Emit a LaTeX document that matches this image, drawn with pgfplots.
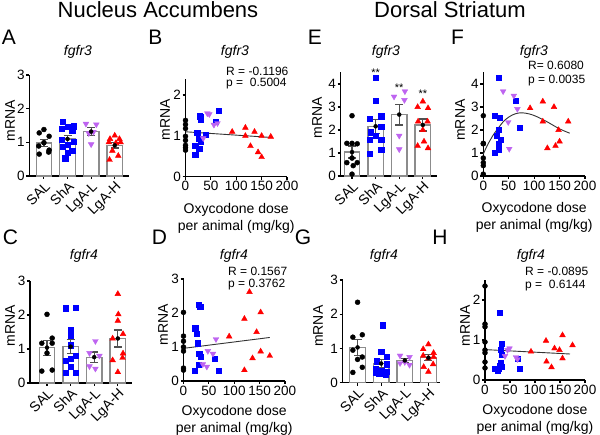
\documentclass[border=0pt]{standalone}
\usepackage{fontspec}
\setmainfont{Liberation Sans}
\usepackage{pgfplots}
\pgfplotsset{compat=1.18}
\definecolor{vio}{RGB}{190,100,240}
\definecolor{barc}{RGB}{140,140,140}
\definecolor{errc}{RGB}{80,80,80}
\newcommand{\tl}{\fontsize{13.5}{15}\selectfont}
\newcommand{\lb}{\fontsize{14}{17}\selectfont}
\newcommand{\rp}{\fontsize{12}{14}\selectfont}
\newcommand{\gt}{\fontsize{14}{16}\selectfont\itshape}
\newcommand{\hd}{\fontsize{22}{26}\selectfont}
\newcommand{\lt}{\fontsize{21}{24}\selectfont}
\pgfplotsset{
 gp/.style={scale only axis, axis lines*=left, axis line style={line width=1.1pt,-}, tick style={line width=1.1pt, black}, major tick length=3pt, tick align=outside, clip=false, ymin=0, /pgf/number format/assume math mode=true, ticklabel style={font=\tl}, yticklabel style={inner sep=1.5pt}, label style={font=\lb}, ylabel={mRNA}},
 barax/.style={gp, xmax=3.6, xtick={0,1,2,3}, xticklabels={SAL,ShA,LgA-L,LgA-H}, xticklabel style={rotate=45, anchor=north east, font=\lb, inner sep=1pt}},
 scax/.style={gp, xmin=0, xmax=200, xtick={0,50,100,150,200}, xlabel={Oxycodone dose\\per animal (mg/kg)}, xlabel style={at={(axis description cs:0.5,0)}, anchor=north, align=center, inner sep=0pt, yshift=-26pt}, xticklabel style={inner sep=1.5pt}},
 gpbar/.style={ybar, bar width=15.5pt, fill=white, draw=barc, line width=1.3pt},
 gperr/.style={only marks, mark=none, error bars/.cd, y dir=both, y explicit, error bar style={errc, line width=1.2pt}, error mark options={errc, rotate=90, mark size=4pt, line width=1.2pt}},
 psal/.style={only marks, mark=*, mark size=2.5pt, black},
 psha/.style={only marks, mark=square*, mark size=2.6pt, blue},
 plgl/.style={only marks, mark=triangle*, mark size=3.3pt, vio, mark options={rotate=180}},
 plgh/.style={only marks, mark=triangle*, mark size=3.3pt, red},
 regl/.style={no markers, line width=0.9pt, black!80},
}
\begin{document}
\begin{tikzpicture}[x=1pt,y=1pt]
\useasboundingbox (0,0) rectangle (600,435);
% ---------- A ----------
\begin{axis}[barax, at={(29.3pt,259pt)}, anchor=south west, width=99.6pt, height=101pt, xmin=-0.62, ymax=3, ytick={0,1,2,3}, ylabel style={at={(axis description cs:-0.194,0.55)}, anchor=center}]
\addplot[gpbar] coordinates {(0,0.98)(1,1.10)(2,1.32)(3,0.91)};
\addplot[psal] coordinates {(0,1.38)(-0.2,1.28)(0.22,1.18)(0,0.99)(-0.22,0.89)(0.22,0.77)(0.2,0.71)(-0.2,0.65)};
\addplot[psha] coordinates {(0.8,1.61)(1.25,1.48)(1.0,1.47)(0.75,1.40)(1.2,1.35)(0.75,1.08)(1.25,1.02)(1.0,0.94)(0.8,0.86)(1.2,0.75)(1.0,0.69)(0.9,0.53)};
\addplot[plgl] coordinates {(1.78,1.55)(2.22,1.53)(2.1,1.31)(1.9,1.27)(2.0,0.94)};
\addplot[plgh] coordinates {(3,1.2)(2.8,1.1)(3.2,1.1)(2.75,1.0)(3.25,1.0)(3.05,0.98)(2.9,0.75)(3.15,0.6)(2.78,0.48)};
\addplot[gperr] coordinates {(0,0.98)+-(0,0.097)(1,1.10)+-(0,0.095)(2,1.32)+-(0,0.11)(3,0.91)+-(0,0.08)};
\end{axis}
% ---------- B ----------
\begin{axis}[scax, at={(185.5pt,258.3pt)}, anchor=south west, width=101.5pt, height=98pt, ymax=2.4, ytick={0,1,2}, ylabel style={at={(axis description cs:-0.202,0.58)}, anchor=center}]
\addplot[regl] coordinates {(0,1.10)(170,0.96)};
\addplot[psal] coordinates {(0,1.38)(0,1.28)(0,1.18)(0,0.99)(0,0.89)(0,0.77)(0,0.71)(0,0.65)};
\addplot[psha] coordinates {(66,1.61)(28,1.48)(30,1.47)(30,1.40)(60,1.35)(23,1.08)(40,1.02)(27,0.94)(30,0.86)(19,0.75)(27,0.69)(19,0.53)};
\addplot[plgl] coordinates {(43,1.55)(47,1.53)(63,1.31)(56,1.27)(35,0.94)};
\addplot[plgh] coordinates {(92,1.1)(118,1.2)(118,1.0)(136,1.1)(128,0.75)(150,1.0)(168,0.98)(143,0.6)(150,0.48)};
\end{axis}
% ---------- E ----------
\begin{axis}[barax, at={(340.7pt,259pt)}, anchor=south west, width=96.3pt, height=103.5pt, xmin=-0.48, ymax=4.5, ytick={0,1,2,3,4}, ylabel style={at={(axis description cs:-0.246,0.56)}, anchor=center}]
\addplot[gpbar] coordinates {(0,1.04)(1,2.16)(2,2.67)(3,2.22)};
\addplot[psal] coordinates {(0,2.62)(-0.22,1.42)(0,1.42)(0.22,1.40)(0,0.78)(-0.22,0.58)(0.22,0.58)(0.05,0.45)(0,0.08)};
\addplot[psha] coordinates {(1,4.26)(1,3.29)(1.24,2.6)(0.76,2.5)(1.24,2.15)(0.8,1.9)(1.24,1.57)(0.76,1.57)(1.24,1.16)(0.76,0.98)(1,1.75)};
\addplot[plgl] coordinates {(2.24,3.68)(1.78,3.45)(2.22,3.3)(2.0,1.75)(2.0,1.16)};
\addplot[plgh] coordinates {(3,3.24)(2.78,3.0)(3.22,2.95)(2.8,2.37)(3.2,2.37)(3,2.0)(3.05,1.5)(2.78,1.31)(3.22,1.21)};
\addplot[gperr] coordinates {(0,1.04)+-(0,0.26)(1,2.16)+-(0,0.3)(2,2.67)+-(0,0.45)(3,2.22)+-(0,0.26)};
\node[font=\fontsize{11}{12}\selectfont] at (axis cs:1,4.49) {**};
\node[font=\fontsize{11}{12}\selectfont] at (axis cs:2,3.83) {**};
\node[font=\fontsize{11}{12}\selectfont] at (axis cs:3,3.57) {**};
\end{axis}
% ---------- F ----------
\begin{axis}[scax, at={(483.3pt,259pt)}, anchor=south west, width=101.7pt, height=103.5pt, ymax=4.5, ytick={0,1,2,3,4}, ylabel style={at={(axis description cs:-0.229,0.54)}, anchor=center}]
\addplot[regl, smooth] coordinates {(0,0.95)(5,1.2)(10,1.42)(20,1.8)(30,2.1)(40,2.38)(50,2.56)(60,2.68)(70,2.74)(80,2.74)(90,2.7)(100,2.63)(110,2.53)(120,2.42)(130,2.3)(140,2.17)(150,2.05)(160,1.95)(170,1.86)};
\addplot[psal] coordinates {(0,2.62)(0,1.42)(0,1.40)(0,0.78)(0,0.58)(0,0.45)(0,0.08)};
\addplot[psha] coordinates {(31,4.26)(64,3.29)(23,2.63)(33,2.52)(71,2.11)(31,2.0)(26,1.75)(34,1.57)(30,1.4)(31,1.16)(23,1.02)};
\addplot[plgl] coordinates {(39,3.68)(60,3.49)(67,2.91)(49,2.34)(51,1.18)};
\addplot[plgh] coordinates {(92,2.95)(117,3.24)(117,2.37)(139,3.0)(126,1.21)(148,2.0)(167,2.37)(142,1.31)(150,1.5)};
\end{axis}
% ---------- C ----------
\begin{axis}[barax, at={(30pt,52pt)}, anchor=south west, width=102pt, height=102pt, xmin=-0.72, ymax=3, ytick={0,1,2,3}, ylabel style={at={(axis description cs:-0.196,0.56)}, anchor=center}]
\addplot[gpbar] coordinates {(0,1.04)(1,1.07)(2,0.76)(3,1.31)};
\addplot[psal] coordinates {(0,2.02)(0.22,1.32)(-0.22,1.17)(0.22,1.17)(0,0.88)(-0.22,0.35)(0.22,0.38)};
\addplot[psha] coordinates {(0.8,2.2)(1.22,2.22)(1,1.55)(1,1.39)(1,1.11)(1.22,0.8)(1.0,0.72)(0.8,0.65)(1.0,0.47)(0.8,0.3)(1.22,0.3)};
\addplot[plgl] coordinates {(2.05,1.23)(1.8,0.88)(2.22,0.8)(1.8,0.49)(2.05,0.42)};
\addplot[plgh] coordinates {(3,2.62)(3.02,2.02)(3,1.83)(3.22,1.44)(2.78,1.31)(3.22,0.87)(3.2,0.74)(2.78,0.67)(3,0.32)};
\addplot[gperr] coordinates {(0,1.04)+-(0,0.22)(1,1.07)+-(0,0.21)(2,0.76)+-(0,0.15)(3,1.31)+-(0,0.25)};
\end{axis}
% ---------- D ----------
\begin{axis}[scax, at={(183.5pt,54pt)}, anchor=south west, width=101.5pt, height=102pt, ymax=3, ytick={0,1,2,3}, ylabel style={at={(axis description cs:-0.202,0.55)}, anchor=center}, xlabel style={yshift=2pt}]
\addplot[regl] coordinates {(0,0.96)(170,1.28)};
\addplot[psal] coordinates {(0,2.02)(0,1.32)(0,1.17)(0,1.0)(0,0.88)(0,0.38)(0,0.32)};
\addplot[psha] coordinates {(29.5,2.24)(33,2.19)(23,1.55)(26,1.39)(28,1.11)(31,0.8)(34,0.72)(62,0.65)(30,0.47)(70,0.3)(22,0.3)};
\addplot[plgl] coordinates {(64,1.23)(48,0.88)(58,0.8)(38,0.49)(46,0.42)};
\addplot[plgh] coordinates {(90,1.31)(120,1.83)(130,2.62)(120,0.32)(136,0.67)(144,1.44)(152,2.02)(152,0.87)(170,0.74)};
\end{axis}
% ---------- G ----------
\begin{axis}[barax, at={(342.7pt,52.3pt)}, anchor=south west, width=97.5pt, height=102.7pt, xmin=-0.63, xmax=3.5, ymax=3, ytick={0,1,2,3}, ylabel style={at={(axis description cs:-0.253,0.55)}, anchor=center}]
\addplot[gpbar] coordinates {(0,1.03)(1,0.56)(2,0.65)(3,0.73)};
\addplot[psal] coordinates {(0,2.35)(0.2,1.4)(-0.2,1.33)(-0.2,0.95)(0.2,0.75)(0,0.68)(0.2,0.45)(-0.2,0.3)};
\addplot[psha] coordinates {(1.05,1.68)(1,0.9)(1.22,0.75)(0.8,0.63)(1.22,0.54)(0.78,0.42)(1.0,0.35)(1.22,0.33)(0.78,0.29)(1.1,0.27)(0.9,0.27)(1.2,0.23)};
\addplot[plgl] coordinates {(1.8,0.79)(2.2,0.75)(2,0.6)(1.8,0.57)(2.2,0.52)};
\addplot[plgh] coordinates {(3,1.12)(2.78,0.98)(3.22,0.87)(2.78,0.79)(3.22,0.75)(3,0.71)(3.2,0.54)(2.8,0.46)(3.0,0.32)};
\addplot[gperr] coordinates {(0,1.03)+-(0,0.23)(1,0.56)+-(0,0.12)(2,0.65)+-(0,0.05)(3,0.73)+-(0,0.09)};
\end{axis}
% ---------- H ----------
\begin{axis}[scax, at={(485pt,55pt)}, anchor=south west, width=100pt, height=100pt, ymax=2.5, ytick={0,1,2}, ylabel style={at={(axis description cs:-0.2,0.54)}, anchor=center}, xlabel style={yshift=2pt}]
\addplot[regl] coordinates {(0,0.76)(170,0.65)};
\addplot[psal] coordinates {(0,2.35)(0,1.4)(0,1.33)(0,0.95)(0,0.75)(0,0.68)(0,0.45)(0,0.3)};
\addplot[psha] coordinates {(29,1.68)(33,0.9)(31,0.75)(33,0.63)(65,0.54)(31,0.42)(33,0.33)(27,0.29)(20,0.29)(70,0.29)(25,0.23)(29,0.35)};
\addplot[plgl] coordinates {(49,0.79)(45,0.75)(40,0.6)(62,0.57)(65,0.52)};
\addplot[plgh] coordinates {(92,0.71)(122,0.98)(123,0.46)(133,0.32)(139,0.79)(149,0.75)(155,1.12)(155,0.54)(175,0.87)};
\end{axis}
% ---------- texts ----------
\node[font=\hd] at (158,425) {Nucleus Accumbens};
\node[font=\hd] at (450,425) {Dorsal Striatum};
\node[font=\lt] at (9,398) {A};
\node[font=\lt] at (155.5,398) {B};
\node[font=\lt] at (315,398) {E};
\node[font=\lt] at (457.5,398) {F};
\node[font=\lt] at (10.5,198) {C};
\node[font=\lt] at (159.5,198) {D};
\node[font=\lt] at (303,198) {G};
\node[font=\lt] at (440,198) {H};
\node[font=\gt] at (78,383) {fgfr3};
\node[font=\gt] at (235,383) {fgfr3};
\node[font=\gt] at (386,383) {fgfr3};
\node[font=\gt] at (534,383) {fgfr3};
\node[font=\gt] at (84,179) {fgfr4};
\node[font=\gt] at (234,179) {fgfr4};
\node[font=\gt] at (384,179) {fgfr4};
\node[font=\gt] at (531,179) {fgfr4};
\node[font=\rp, anchor=west, inner sep=0pt] at (226,364) {R = -0.1196};
\node[font=\rp, anchor=west, inner sep=0pt] at (226,351.5) {p =\ \ 0.5004};
\node[font=\rp, anchor=west, inner sep=0pt] at (528,370) {R= 0.6080};
\node[font=\rp, anchor=west, inner sep=0pt] at (528,354) {p = 0.0035};
\node[font=\rp, anchor=west, inner sep=0pt] at (228,164) {R = 0.1567};
\node[font=\rp, anchor=west, inner sep=0pt] at (228,150) {p = 0.3762};
\node[font=\rp, anchor=west, inner sep=0pt] at (525,163.5) {R = -0.0895};
\node[font=\rp, anchor=west, inner sep=0pt] at (525,149.5) {p =\ \ 0.6144};
\end{tikzpicture}
\end{document}
